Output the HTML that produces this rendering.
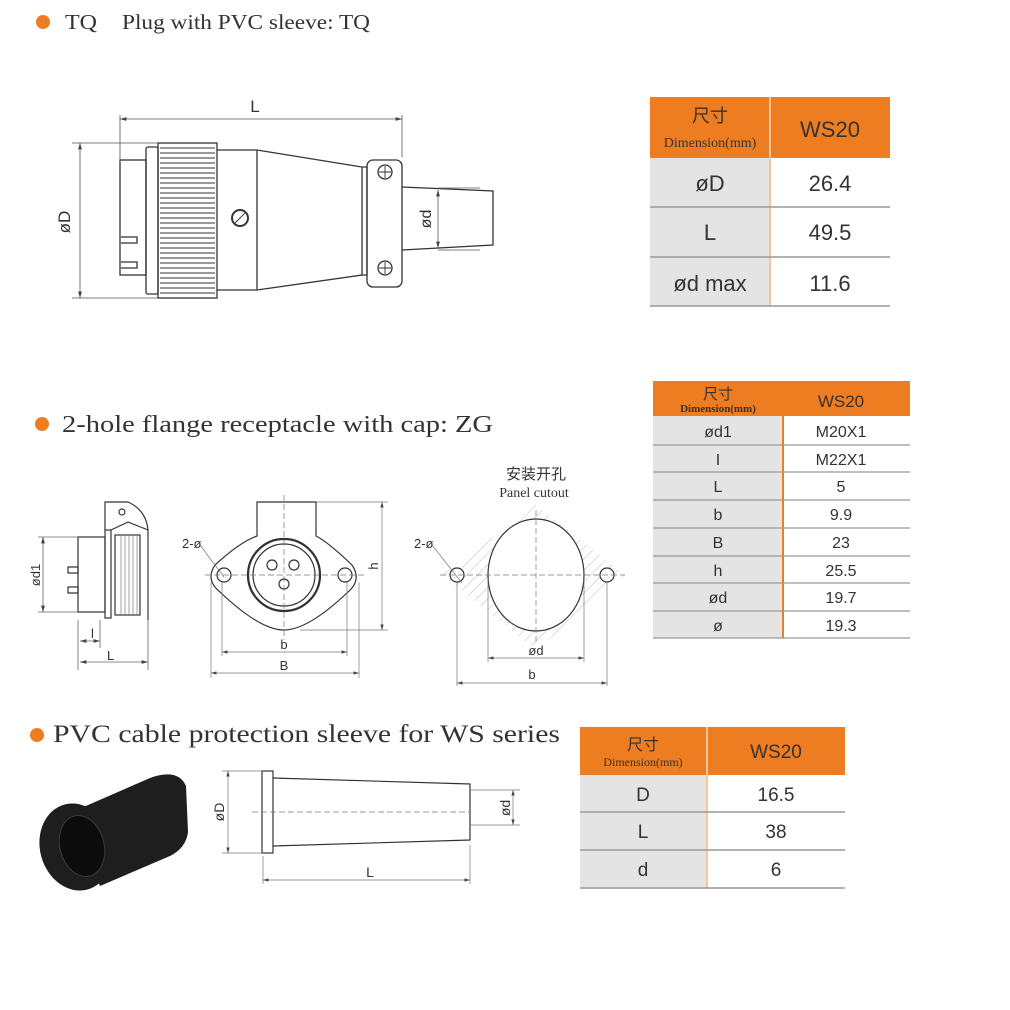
<!DOCTYPE html>
<html><head><meta charset="utf-8"><style>
body{margin:0;background:#fff;width:1010px;height:1010px;overflow:hidden;position:relative}
svg{position:absolute;left:0;top:0}
.h{font-family:"Liberation Serif",serif;fill:#333}
.t{font-family:"Liberation Sans","Noto Sans CJK SC",sans-serif;fill:#333}
</style></head><body>
<svg width="1010" height="1010" viewBox="0 0 1010 1010" xmlns="http://www.w3.org/2000/svg">
<defs>
<marker id="a" viewBox="0 0 10 6" refX="10" refY="3" markerWidth="8" markerHeight="5" orient="auto-start-reverse"><path d="M0,0L10,3L0,6z" fill="#444"/></marker>
<pattern id="hat" width="8" height="8" patternUnits="userSpaceOnUse" patternTransform="rotate(45)"><line x1="0" y1="0" x2="0" y2="8" stroke="#bbb" stroke-width="1"/></pattern>
</defs>
<!-- headings -->
<circle cx="43" cy="22" r="7" fill="#ee7d22"/>
<text x="65" y="29" class="h" font-size="21" textLength="32" lengthAdjust="spacingAndGlyphs">TQ</text>
<text x="122" y="29" class="h" font-size="21" textLength="248" lengthAdjust="spacingAndGlyphs">Plug with PVC sleeve: TQ</text>
<circle cx="42" cy="424" r="7" fill="#ee7d22"/>
<text x="62" y="432" class="h" font-size="24" textLength="431" lengthAdjust="spacingAndGlyphs">2-hole flange receptacle with cap: ZG</text>
<circle cx="37" cy="735" r="7" fill="#ee7d22"/>
<text x="53" y="742" class="h" font-size="25" textLength="507" lengthAdjust="spacingAndGlyphs">PVC cable protection sleeve for WS series</text>

<!-- TQ drawing -->
<g stroke="#333" stroke-width="1.3" fill="none">
<rect x="120" y="160" width="26" height="115"/>
<rect x="146" y="147" width="12" height="147" rx="2"/>
<rect x="158" y="143" width="59" height="155"/>
<path d="M217,150 H257 L362,167 V275 L257,290 H217"/>
<line x1="257" y1="150" x2="257" y2="290"/>
<path d="M362,167 h5 v108 h-5"/>
<rect x="367" y="160" width="35" height="127" rx="6"/>
<path d="M402,187 L493,191 V245 L402,250"/>
<circle cx="385" cy="172" r="7"/><circle cx="385" cy="268" r="7"/>
<circle cx="240" cy="218" r="8" stroke-width="2"/>
<path d="M121,237 h16 v6 h-16 M121,262 h16 v6 h-16"/>
</g>
<g stroke="#333" stroke-width="0.9">
<path d="M160,148H215M160,153H215M160,158H215M160,163H215M160,168H215M160,173H215M160,178H215M160,183H215M160,188H215M160,193H215M160,198H215M160,203H215M160,208H215M160,213H215M160,218H215M160,223H215M160,228H215M160,233H215M160,238H215M160,243H215M160,248H215M160,253H215M160,258H215M160,263H215M160,268H215M160,273H215M160,278H215M160,283H215M160,288H215M160,293H215"/>
<path d="M385,166v12M379,172h12M385,262v12M379,268h12M235,223l10,-10"/>
</g>
<g stroke="#555" stroke-width="0.8" fill="none">
<path d="M120,162V115M402,157V115M72,143H158M72,298H158M438,188H480M438,250H480"/>
<line x1="120" y1="119" x2="402" y2="119" marker-start="url(#a)" marker-end="url(#a)"/>
<line x1="80" y1="143" x2="80" y2="298" marker-start="url(#a)" marker-end="url(#a)"/>
<line x1="438" y1="190" x2="438" y2="248" marker-start="url(#a)" marker-end="url(#a)"/>
</g>
<text x="255" y="112" class="t" font-size="17" text-anchor="middle">L</text>
<text transform="translate(70,222) rotate(-90)" class="t" font-size="17" text-anchor="middle">øD</text>
<text transform="translate(431,219) rotate(-90)" class="t" font-size="16" text-anchor="middle">ød</text>

<!-- ZG side view -->
<g stroke="#333" stroke-width="1.2" fill="none">
<rect x="78" y="537" width="27" height="75"/>
<rect x="105" y="530" width="6" height="88"/>
<path d="M105,530V502H128Q146,510 148,530V620"/>
<path d="M111,530 L128,522 L148,530"/>
<circle cx="122" cy="512" r="3"/>
<rect x="115" y="535" width="25" height="80"/>
<path d="M68,567h10v6h-10zM68,587h10v6h-10z"/>
</g>
<g stroke="#777" stroke-width="0.7"><path d="M121,536V614M125,536V614M129,536V614M133,536V614M137,536V614"/></g>
<g stroke="#666" stroke-width="0.8" fill="none">
<path d="M38,537H78M38,612H78M78,620V670M100,620V648M148,620V670"/>
<line x1="43" y1="537" x2="43" y2="612" marker-start="url(#a)" marker-end="url(#a)"/>
<line x1="80" y1="641" x2="100" y2="641" marker-start="url(#a)" marker-end="url(#a)"/>
<line x1="80" y1="662" x2="148" y2="662" marker-start="url(#a)" marker-end="url(#a)"/>
</g>
<text transform="translate(40,575) rotate(-90)" class="t" font-size="13" text-anchor="middle" fill="#666">ød1</text>
<text x="91" y="638" class="t" font-size="13">l</text>
<text x="107" y="660" class="t" font-size="13">L</text>

<!-- ZG front -->
<g stroke="#333" stroke-width="1.2" fill="none">
<path d="M257,502V536 Q240,542 215,565 Q205,580 220,592 Q260,630 284,630 Q308,630 348,592 Q362,580 352,565 Q328,542 316,536V502Z"/>
<circle cx="284" cy="575" r="36" stroke-width="2.2"/>
<circle cx="284" cy="575" r="31"/>
<circle cx="272" cy="565" r="5"/><circle cx="294" cy="565" r="5"/><circle cx="284" cy="584" r="5"/>
<circle cx="224" cy="575" r="7"/><circle cx="345" cy="575" r="7"/>
</g>
<g stroke="#777" stroke-width="0.7" fill="none">
<path d="M284,495V640M205,575H365" stroke-dasharray="6,3"/>
<path d="M316,502H388M300,630H388M222,582V656M347,582V656M211,582V678M359,582V678M200,545l24,32"/>
<line x1="382" y1="502" x2="382" y2="630" marker-start="url(#a)" marker-end="url(#a)"/>
<line x1="222" y1="652" x2="347" y2="652" marker-start="url(#a)" marker-end="url(#a)"/>
<line x1="211" y1="673" x2="359" y2="673" marker-start="url(#a)" marker-end="url(#a)"/>
</g>
<text x="182" y="548" class="t" font-size="13">2-ø</text>
<text transform="translate(378,566) rotate(-90)" class="t" font-size="13" text-anchor="middle">h</text>
<text x="284" y="649" class="t" font-size="13" text-anchor="middle">b</text>
<text x="284" y="670" class="t" font-size="13" text-anchor="middle">B</text>

<!-- Panel cutout -->
<text x="536" y="479" class="t" font-size="15" text-anchor="middle">安装开孔</text>
<text x="534" y="497" class="h" font-size="14" text-anchor="middle">Panel cutout</text>
<path d="M536,505 L625,575 L536,650 L442,575Z" fill="url(#hat)"/>
<g stroke="#333" stroke-width="1.2" fill="#fff">
<ellipse cx="536" cy="575" rx="48" ry="56"/>
<circle cx="457" cy="575" r="7"/><circle cx="607" cy="575" r="7"/>
</g>
<g stroke="#777" stroke-width="0.7" fill="none">
<path d="M536,510V645M440,575H625" stroke-dasharray="6,3"/>
<path d="M488,580V662M584,580V662M457,582V686M607,582V686M432,545l30,38"/>
<line x1="488" y1="658" x2="584" y2="658" marker-start="url(#a)" marker-end="url(#a)"/>
<line x1="457" y1="683" x2="607" y2="683" marker-start="url(#a)" marker-end="url(#a)"/>
</g>
<text x="414" y="548" class="t" font-size="13">2-ø</text>
<text x="536" y="655" class="t" font-size="13" text-anchor="middle">ød</text>
<text x="532" y="679" class="t" font-size="13" text-anchor="middle">b</text>

<!-- sleeve photo -->
<g fill="#1e1e1e">
<path d="M72,812 L150,778 Q178,768 186,786 L188,832 Q186,848 170,856 L100,886Z"/>
<ellipse cx="76" cy="847" rx="36" ry="44" transform="rotate(-15 76 847)"/>
</g>
<ellipse cx="82" cy="846" rx="22" ry="31" transform="rotate(-15 82 846)" fill="#0c0c0c" stroke="#3a3a3a"/>

<!-- sleeve drawing -->
<g stroke="#333" stroke-width="1.2" fill="none">
<rect x="262" y="771" width="11" height="82"/>
<path d="M273,778 L470,784 V840 L273,846"/>
</g>
<g stroke="#777" stroke-width="0.7" fill="none">
<path d="M252,812H470" stroke-dasharray="6,3"/>
<path d="M222,771H262M222,853H262M470,790H520M470,825H520M263,856V884M470,845V884"/>
<line x1="228" y1="771" x2="228" y2="853" marker-start="url(#a)" marker-end="url(#a)"/>
<line x1="513" y1="790" x2="513" y2="825" marker-start="url(#a)" marker-end="url(#a)"/>
<line x1="263" y1="880" x2="470" y2="880" marker-start="url(#a)" marker-end="url(#a)"/>
</g>
<text transform="translate(224,812) rotate(-90)" class="t" font-size="14" text-anchor="middle">øD</text>
<text transform="translate(510,808) rotate(-90)" class="t" font-size="14" text-anchor="middle">ød</text>
<text x="370" y="877" class="t" font-size="14" text-anchor="middle">L</text>

<!-- Table 1 -->
<rect x="650" y="97" width="240" height="61" fill="#ee7d22"/>
<rect x="650" y="158" width="120" height="148" fill="#e4e4e4"/>
<line x1="770" y1="97" x2="770" y2="306" stroke="#f6c79c" stroke-width="2"/>
<g stroke="#999" stroke-width="1.5"><path d="M650,207H890M650,257H890M650,306H890"/></g>
<text x="710" y="122" class="t" font-size="18" text-anchor="middle">尺寸</text>
<text x="710" y="147" class="h" font-size="14" text-anchor="middle">Dimension(mm)</text>
<text x="830" y="137" class="t" font-size="22" text-anchor="middle">WS20</text>
<g class="t" font-size="22" text-anchor="middle">
<text x="710" y="191">øD</text><text x="830" y="191">26.4</text>
<text x="710" y="240">L</text><text x="830" y="240">49.5</text>
<text x="710" y="291">ød max</text><text x="830" y="291">11.6</text>
</g>

<!-- Table 2 -->
<rect x="653" y="381" width="257" height="35" fill="#ee7d22"/>
<rect x="653" y="416" width="130" height="222" fill="#e4e4e4"/>
<line x1="783" y1="381" x2="783" y2="638" stroke="#ee7d22" stroke-width="2"/>
<g stroke="#999" stroke-width="1.2"><path d="M653,445H910M653,472H910M653,500H910M653,528H910M653,556H910M653,583H910M653,611H910M653,638H910"/></g>
<text x="718" y="399" class="t" font-size="15" text-anchor="middle">尺寸</text>
<text x="718" y="412" class="h" font-size="11" text-anchor="middle" font-weight="bold">Dimension(mm)</text>
<text x="841" y="407" class="t" font-size="17" text-anchor="middle">WS20</text>
<g class="t" font-size="16" text-anchor="middle">
<text x="718" y="437">ød1</text><text x="841" y="437">M20X1</text>
<text x="718" y="465">I</text><text x="841" y="465">M22X1</text>
<text x="718" y="492">L</text><text x="841" y="492">5</text>
<text x="718" y="520">b</text><text x="841" y="520">9.9</text>
<text x="718" y="548">B</text><text x="841" y="548">23</text>
<text x="718" y="576">h</text><text x="841" y="576">25.5</text>
<text x="718" y="603">ød</text><text x="841" y="603">19.7</text>
<text x="718" y="631">ø</text><text x="841" y="631">19.3</text>
</g>

<!-- Table 3 -->
<rect x="580" y="727" width="265" height="48" fill="#ee7d22"/>
<rect x="580" y="775" width="127" height="113" fill="#e4e4e4"/>
<line x1="707" y1="727" x2="707" y2="888" stroke="#f6c79c" stroke-width="2"/>
<g stroke="#999" stroke-width="1.5"><path d="M580,812H845M580,850H845M580,888H845"/></g>
<text x="643" y="750" class="t" font-size="16" text-anchor="middle">尺寸</text>
<text x="643" y="766" class="h" font-size="12" text-anchor="middle">Dimension(mm)</text>
<text x="776" y="758" class="t" font-size="19" text-anchor="middle">WS20</text>
<g class="t" font-size="19" text-anchor="middle">
<text x="643" y="801">D</text><text x="776" y="801">16.5</text>
<text x="643" y="838">L</text><text x="776" y="838">38</text>
<text x="643" y="876">d</text><text x="776" y="876">6</text>
</g>
</svg>
</body></html>
